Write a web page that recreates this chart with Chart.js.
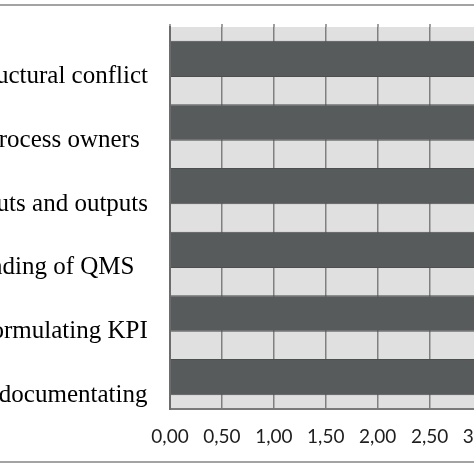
<!DOCTYPE html>
<html>
<head>
<meta charset="utf-8">
<script src="https://cdn.jsdelivr.net/npm/chart.js@4.4.1/dist/chart.umd.min.js"></script>
<style>
  html, body { margin: 0; padding: 0; background: #fff; }
  body { width: 474px; height: 474px; overflow: hidden; position: relative; }
  .chart-box { position: absolute; left: -400px; top: 0; width: 1020px; height: 474px; }
  .rule { position: absolute; left: 0; width: 474px; height: 2px; background: #a3a3a3; }
</style>
</head>
<body>
<div class="rule" style="top:4px"></div>
<div class="chart-box"><canvas id="chart"></canvas></div>
<div class="rule" style="top:461px"></div>
<script>
// categories, top to bottom (left part is cut off in the figure)
const categories = [
  "Problem of structural conflict",
  "Not defined process owners",
  "Undefined inputs and outputs",
  "Misunderstanding of QMS",
  "Difficulty in formulating KPI",
  "Difficulties in documentating"
];
// mean scores (bars run past the visible edge)
const scores = [3.30, 3.15, 3.40, 3.05, 3.20, 3.35];
const tickLabels = ["0,00", "0,50", "1,00", "1,50", "2,00", "2,50", "3,00", "3,50", "4,00"];

const plotBg = {
  id: "plotBg",
  beforeDraw(chart) {
    const { ctx, chartArea } = chart;
    ctx.save();
    ctx.fillStyle = "#e0e0e0";
    ctx.fillRect(chartArea.left, chartArea.top, chartArea.right - chartArea.left, chartArea.bottom - chartArea.top);
    // small tick marks sticking out above the plot
    ctx.strokeStyle = "#808080";
    ctx.lineWidth = 1.5;
    const xs = chart.scales.x;
    xs.ticks.forEach((t) => {
      const px = Math.round(xs.getPixelForValue(t.value));
      ctx.beginPath();
      ctx.moveTo(px, chartArea.top - 3);
      ctx.lineTo(px, chartArea.top);
      ctx.stroke();
    });
    ctx.restore();
  }
};

const ctx = document.getElementById("chart").getContext("2d");
new Chart(ctx, {
  type: "bar",
  data: {
    labels: categories,
    datasets: [{
      data: scores,
      backgroundColor: "#585b5c",
      borderColor: "#4c4f50",
      borderWidth: 1,
      categoryPercentage: 1,
      barPercentage: 0.57
    }]
  },
  options: {
    indexAxis: "y",
    responsive: true,
    maintainAspectRatio: false,
    animation: false,
    layout: { padding: { top: 27, right: 23.6, left: 0, bottom: 0 } },
    plugins: { legend: { display: false }, tooltip: { enabled: false } },
    scales: {
      x: {
        min: 0,
        max: 4,
        ticks: {
          stepSize: 0.5,
          padding: 16,
          color: "#1e1e1e",
          font: { family: "Lato", size: 19 },
          maxRotation: 0,
          callback: (v, i) => tickLabels[i]
        },
        grid: { color: "#808080", lineWidth: 1.5, drawTicks: false },
        border: { display: true, color: "#7a7a7a", width: 2 },
        afterFit: (scale) => { scale.height = 65; }
      },
      y: {
        ticks: {
          padding: 22,
          labelOffset: 18,
          crossAlign: "center",
          color: "#000",
          font: { family: "Liberation Serif", size: 25 }
        },
        grid: { display: false, drawTicks: false },
        border: { display: true, color: "#6c6c6c", width: 2 },
        afterFit: (scale) => {
          scale.width = 570;
          scale.paddingTop = 0;
          scale.paddingBottom = 0;
        }
      }
    }
  },
  plugins: [plotBg]
});
</script>
</body>
</html>
